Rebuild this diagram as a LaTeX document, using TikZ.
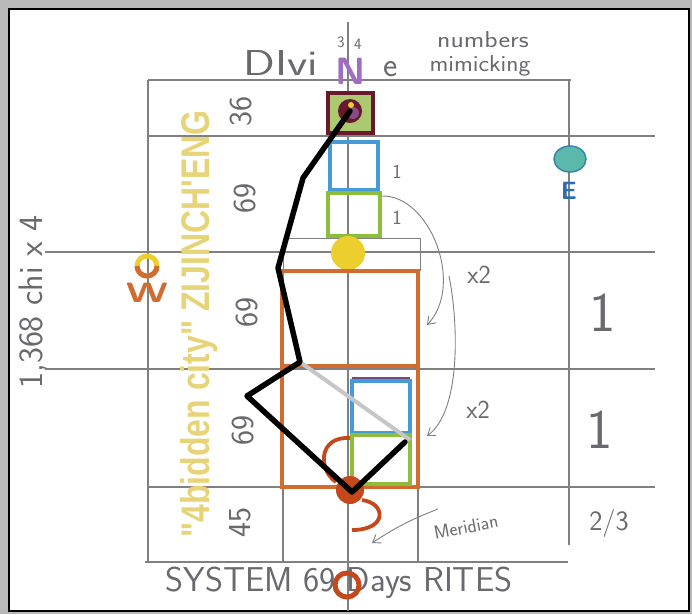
\documentclass[tikz,border=0pt]{standalone}
\usepackage{fontspec}
\newfontfamily\posterfont[FakeStretch=0.8]{Liberation Sans}
\usetikzlibrary{arrows.meta,positioning,calc}
\definecolor{pencil}{RGB}{128,128,128}
\definecolor{inkgray}{RGB}{105,105,110}
\definecolor{brickorange}{RGB}{208,108,48}
\definecolor{rustred}{RGB}{196,72,28}
\definecolor{violetN}{RGB}{160,110,190}
\definecolor{skyblue}{RGB}{70,155,215}
\definecolor{leafgreen}{RGB}{140,190,60}
\definecolor{sunyellow}{RGB}{236,206,44}
\definecolor{maroonink}{RGB}{105,25,45}
\definecolor{oliveleaf}{RGB}{172,200,112}
\definecolor{tealdot}{RGB}{90,185,170}
\definecolor{eblue}{RGB}{45,110,175}
\definecolor{paleyellow}{RGB}{232,212,120}

\begin{document}
\begin{tikzpicture}[x=1pt, y=-1pt, every node/.style={inner sep=0pt}]
\tikzset{gridline/.style={draw=pencil, line width=1.2pt}}
\tikzset{hand/.style={font=\sffamily\fontsize{#1}{#1}\selectfont, text=inkgray}}
\tikzset{marker/.style={line width=3.2pt}}
\tikzset{curvearrow/.style={draw=pencil, line width=0.9pt, -{Straight Barb[length=7pt,width=10pt]}}}
\useasboundingbox (0,0) rectangle (692,614);
\fill[gray!55] (0,0) rectangle (692,614);
\filldraw[fill=white, draw=black, line width=1.5pt] (9,9) rectangle (689,611);

\draw[gridline] (148,80) -- (571,80);
\draw[gridline] (148,136) -- (655,136);
\draw[gridline] (45,252) -- (655,252);
\draw[gridline] (45,369) -- (655,369);
\draw[gridline] (148,487) -- (655,487);
\draw[gridline] (145,562) -- (568,562);
\draw[gridline] (148,80) -- (148,562);
\draw[gridline] (569,80) -- (569,545);
\draw[gridline] (283,487) -- (283,562);
\draw[gridline] (418,487) -- (418,562);
\draw[gridline] (348,22) -- (348,611);
\draw[gridline, line width=0.9pt] (283,271) -- (283,238) -- (420,238) -- (420,271);

\node[rotate=90, text=paleyellow, font=\posterfont\bfseries\fontsize{40}{40}\selectfont] (city) at (199,324) {"4bidden city" ZIJINCH'ENG};

\node[hand=36] (divi) at (281,63) {\scalebox{1.3}[1]{DIvi}};
\node[text=violetN, font=\sffamily\bfseries\fontsize{38}{38}\selectfont] (bigN) at (351,71) {N};
\node[hand=34] (evowel) at (391,69) {e};
\node[hand=16] (three) at (341,42) {3};
\node[hand=16] (four) at (358,44) {4};
\node[hand=23] (numbers) at (483,40) {\scalebox{1.2}[1]{numbers}};
\node[hand=23] (mimic) at (480,66) {\scalebox{1.1}[1]{mimicking}};

\node[hand=32, rotate=90] (n36) at (241,111) {36};
\node[hand=32, rotate=90] (n69a) at (245,198) {69};
\node[hand=32, rotate=90] (n69b) at (247,312) {69};
\node[hand=32, rotate=90] (n69c) at (243,430) {69};
\node[hand=32, rotate=90] (n45) at (240,522) {45};
\node[hand=34, rotate=90] (chi) at (33,302) {1,368 chi x 4};

\node[hand=56] (oneA) at (603,313) {1};
\node[hand=56] (oneB) at (600,430) {1};
\node[hand=28] (twothirds) at (609,523) {2/3};
\node[hand=26] (xtwoA) at (479,275) {x2};
\node[hand=26] (xtwoB) at (478,410) {x2};
\node[hand=20] (oneC) at (397,172) {1};
\node[hand=20] (oneD) at (397,218) {1};
\node[hand=19, rotate=11] (meridian) at (466,527) {Meridian};
\node[hand=34.5] (system) at (339,583) {SYSTEM 69 Days RITES};

\draw[sunyellow, line width=5pt] (147,266) circle (10);
\draw[brickorange, line width=5pt] (137,266) arc (180:0:10);
\node[text=brickorange, font=\sffamily\bfseries\fontsize{28}{28}\selectfont] (west) at (147,293) {\scalebox{1.45}[1]{W}};
\filldraw[fill=tealdot, draw=eblue!70!tealdot, line width=1.5pt] (570,159) ellipse (16 and 13);
\node[text=eblue, font=\sffamily\bfseries\fontsize{25}{25}\selectfont] (east) at (569,191) {E};

\filldraw[draw=maroonink, line width=3.5pt, fill=oliveleaf] (328,93) rectangle (373,133);
\fill[maroonink] (350,111) circle (12);
\fill[violetN!60!maroonink] (353,113) circle (6);
\fill[sunyellow] (351,105) circle (3);
\draw[skyblue, marker] (330,142) rectangle (378,190);
\draw[leafgreen, marker] (328,193) rectangle (380,236);
\fill[sunyellow] (348,253) circle (17);
\draw[brickorange, line width=3.8pt] (282,271) rectangle (418,366);
\draw[brickorange, line width=3.8pt] (282,366) rectangle (418,487);
\draw[violetN!70!black, line width=2pt] (352,378) -- (410,378);
\draw[skyblue, marker] (352,381) rectangle (410,433);
\draw[leafgreen, marker] (352,435) rectangle (410,484);
\draw[rustred, line width=3.8pt] (350,438) .. controls (318,436) and (318,470) .. (336,482);
\draw[rustred, line width=3.8pt] (362,500) .. controls (386,503) and (388,530) .. (352,530);
\fill[rustred] (350,490) circle (14);
\draw[rustred, line width=5pt] (347,585) circle (12);

\coordinate (head) at (350,111);
\coordinate (neck) at (303,178);
\coordinate (hip) at (278,268);
\coordinate (knee) at (300,362);
\coordinate (heel) at (247,396);
\coordinate (foot) at (352,492);
\coordinate (toe) at (405,442);
\coordinate (toegray) at (410,440);
\draw[gray!45, line width=4pt] (knee) -- (toegray);
\draw[black, line width=5.5pt, line join=round, line cap=round] (head) -- (neck) -- (hip) -- (knee) -- (heel) -- (foot) -- (toe);

\coordinate (arcAstart) at (382,196);
\coordinate (arcAend) at (427,325);
\coordinate (arcBstart) at (449,276);
\coordinate (arcBend) at (427,436);
\coordinate (merA) at (438,509);
\coordinate (merB) at (372,543);
\draw[curvearrow] (arcAstart) .. controls (430,195) and (465,285) .. (arcAend);
\draw[curvearrow] (arcBstart) .. controls (458,320) and (462,410) .. (arcBend);
\draw[curvearrow] (merA) to[bend right=6] (merB);
\end{tikzpicture}
\end{document}
